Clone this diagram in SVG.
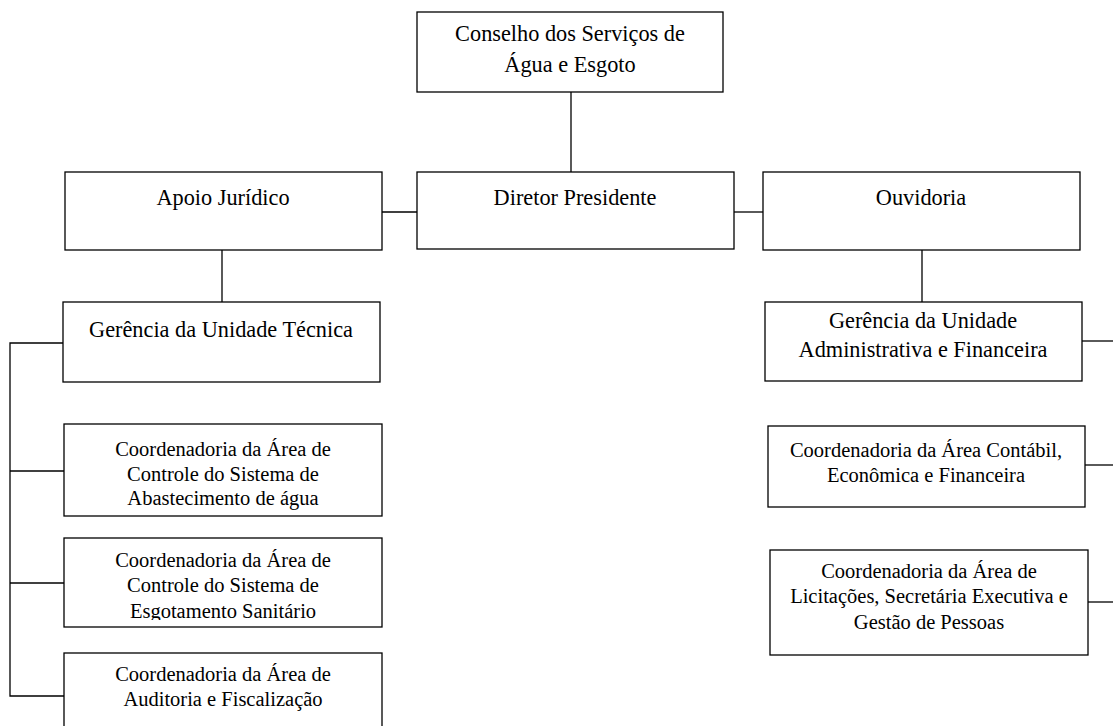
<svg xmlns="http://www.w3.org/2000/svg" width="1113" height="726" viewBox="0 0 1113 726">
<style>
.box{fill:#fff;stroke:#000;stroke-width:1.3}
.con{stroke:#000;stroke-width:1.3;fill:none}
.h{font-family:"Liberation Serif","Times New Roman",serif;font-size:22.3px;fill:#000;text-anchor:middle}
.c{font-family:"Liberation Serif","Times New Roman",serif;font-size:20.5px;fill:#000;text-anchor:middle}
</style>
<defs>
<clipPath id="clipEsg"><rect x="64" y="538" width="318" height="82"/></clipPath>
</defs>
<rect width="1113" height="726" fill="#fff"/>
<g id="connectors">
<line class="con" x1="571" y1="92" x2="571" y2="172"/>
<line class="con" x1="382" y1="212" x2="417" y2="212"/>
<line class="con" x1="734" y1="212" x2="763" y2="212"/>
<line class="con" x1="222" y1="250" x2="222" y2="302"/>
<line class="con" x1="922" y1="250" x2="922" y2="302"/>
<polyline class="con" points="63,343 10,343 10,696 64,696"/>
<line class="con" x1="10" y1="471" x2="64" y2="471"/>
<line class="con" x1="10" y1="583" x2="64" y2="583"/>
<line class="con" x1="1082" y1="341" x2="1113" y2="341"/>
<line class="con" x1="1085" y1="465" x2="1113" y2="465"/>
<line class="con" x1="1088" y1="602" x2="1113" y2="602"/>
</g>
<g id="conselho">
<rect class="box" x="417" y="12" width="306" height="80"/>
<text class="h" x="570" y="41">Conselho dos Serviços de</text>
<text class="h" x="570" y="72">Água e Esgoto</text>
</g>
<g id="diretor">
<rect class="box" x="417" y="172" width="317" height="77"/>
<text class="h" x="575" y="205">Diretor Presidente</text>
</g>
<g id="apoio">
<rect class="box" x="65" y="172" width="317" height="78"/>
<text class="h" x="223" y="205">Apoio Jurídico</text>
</g>
<g id="ouvidoria">
<rect class="box" x="763" y="172" width="317" height="78"/>
<text class="h" x="921" y="205">Ouvidoria</text>
</g>
<g id="gerencia-tecnica">
<rect class="box" x="63" y="302" width="317" height="80"/>
<text class="h" x="221" y="337">Gerência da Unidade Técnica</text>
</g>
<g id="gerencia-adm">
<rect class="box" x="765" y="302" width="317" height="79"/>
<text class="h" x="923" y="328">Gerência da Unidade</text>
<text class="h" x="923" y="357">Administrativa e Financeira</text>
</g>
<g id="coord-abastecimento">
<rect class="box" x="64" y="424" width="318" height="92"/>
<text class="c" x="223" y="456">Coordenadoria da Área de</text>
<text class="c" x="223" y="481">Controle do Sistema de</text>
<text class="c" x="223" y="505">Abastecimento de água</text>
</g>
<g id="coord-esgotamento">
<rect class="box" x="64" y="538" width="318" height="89"/>
<text class="c" x="223" y="567">Coordenadoria da Área de</text>
<text class="c" x="223" y="592">Controle do Sistema de</text>
<text class="c" x="223" y="618" clip-path="url(#clipEsg)">Esgotamento Sanitário</text>
</g>
<g id="coord-auditoria">
<rect class="box" x="64" y="653" width="318" height="90"/>
<text class="c" x="223" y="681">Coordenadoria da Área de</text>
<text class="c" x="223" y="706">Auditoria e Fiscalização</text>
</g>
<g id="coord-contabil">
<rect class="box" x="768" y="426" width="317" height="81"/>
<text class="c" x="926" y="457">Coordenadoria da Área Contábil,</text>
<text class="c" x="926" y="482">Econômica e Financeira</text>
</g>
<g id="coord-licitacoes">
<rect class="box" x="770" y="550" width="318" height="105"/>
<text class="c" x="929" y="578">Coordenadoria da Área de</text>
<text class="c" x="929" y="603">Licitações, Secretária Executiva e</text>
<text class="c" x="929" y="629">Gestão de Pessoas</text>
</g>
</svg>
